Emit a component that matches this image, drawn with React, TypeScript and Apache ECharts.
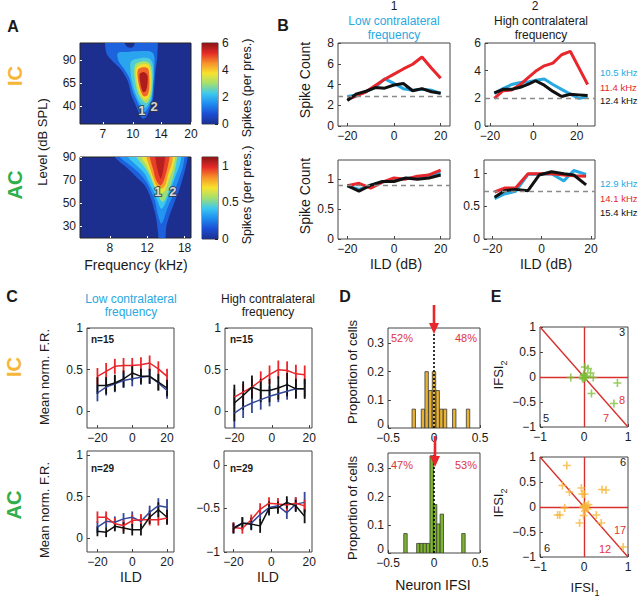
import React, { useEffect, useRef } from 'react';
import * as echarts from 'echarts';

// ---------------- Panel A: contour outlines [frequency kHz, level dB SPL] ----------------
const A_IC_CBAR_TICKS = [0, 2, 4, 6];
const A_IC_CBAR_MAX = 6;
const A_IC_LEVELS = [1.0, 1.8, 2.4, 3.1, 3.8, 4.8, 5.7];
const A_IC_CONTOURS = [
  [[7.29, 112], [9.07, 112], [9.07, 108], [9.43, 103.4], [10.0, 103.4], [10.22, 108], [10.22, 112], [13.2, 112], [13.4, 95.5], [13.1, 77.6], [12.9, 59.7], [12.7, 47.1], [12.2, 36.4], [11.7, 28.2], [11.2, 26.8], [10.85, 31.1], [10.4, 40.1], [9.81, 52.5], [9.43, 66.8], [8.71, 79.4], [7.73, 90.1], [7.29, 97.3]],
  [[8.37, 97.3], [9.43, 98.4], [10.4, 99.1], [12.7, 97.3], [12.9, 77.6], [12.7, 59.7], [12.55, 47.1], [11.98, 38.2], [11.5, 33.9], [11.06, 36.4], [10.63, 43.6], [10.0, 56.1], [9.6, 70.4], [9.07, 79.4], [8.45, 88.3]],
  [[9.81, 88.3], [11.06, 91.9], [12.2, 91.2], [12.7, 84.8], [12.7, 63.2], [12.46, 48.9], [11.98, 41.8], [11.5, 38.2], [11.06, 41.8], [10.55, 48.9], [10.0, 63.2], [9.73, 77.6]],
  [[10.3, 84.8], [11.3, 88.3], [12.2, 86.5], [12.55, 77.6], [12.55, 59.7], [12.2, 47.1], [11.74, 43.6], [11.3, 45.4], [10.63, 54.3], [10.22, 70.4]],
  [[10.47, 81.9], [11.3, 85.5], [12.07, 84.1], [12.36, 75.8], [12.36, 59.7], [12.07, 49.6], [11.5, 47.1], [10.85, 54.3], [10.43, 68.6]],
  [[10.63, 79.4], [11.3, 81.9], [11.98, 80.5], [12.17, 72.2], [12.17, 59.7], [11.9, 51.8], [11.4, 50.7], [10.97, 56.8], [10.63, 68.6]],
  [[10.85, 74.7], [11.4, 76.9], [11.9, 73.3], [11.9, 63.2], [11.65, 56.1], [11.3, 55.4], [10.97, 63.2]],
];
const A_IC_MARKS = [{ name: '1', value: [11.15, 35.5] }, { name: '2', value: [12.87, 40] }];
const A_IC_XTICKS = [7, 10, 14, 20];
const A_IC_YTICKS = [40, 65, 90];

const A_AC_CBAR_TICKS = [0, 0.5, 1];
const A_AC_CBAR_MAX = 1.12;
const A_AC_LEVELS = [0.18, 0.3, 0.42, 0.55, 0.68, 0.82, 0.95, 1.05];
const A_AC_CONTOURS = [
  [[8.44, 94], [8.44, 90], [8.91, 85.7], [9.74, 79.9], [10.66, 72.7], [11.67, 65.5], [12.32, 56.9], [12.77, 48.2], [13.23, 36.7], [13.48, 25.2], [13.73, 16], [14.49, 16], [14.75, 29.5], [15.29, 39.6], [16.14, 51.1], [17.04, 62.6], [17.99, 77.0], [18.64, 90], [18.64, 94]],
  [[8.91, 94], [8.91, 90], [9.74, 84.2], [10.86, 77.0], [11.88, 68.4], [12.54, 59.8], [13.09, 51.1], [13.48, 39.6], [13.97, 32.4], [14.38, 36.7], [14.91, 45.3], [15.85, 56.9], [16.73, 68.4], [17.66, 81.4], [17.99, 90], [17.99, 94]],
  [[9.74, 94], [9.74, 90], [10.66, 82.8], [11.67, 75.6], [12.32, 66.9], [12.9, 59.8], [13.48, 51.1], [13.97, 45.3], [14.59, 49.7], [15.29, 59.8], [16.14, 71.3], [17.04, 82.8], [17.34, 90], [17.34, 94]],
  [[10.66, 94], [10.66, 90], [11.46, 82.8], [12.19, 75.6], [12.77, 66.9], [13.23, 61.2], [13.73, 54.0], [14.22, 51.1], [14.75, 55.4], [15.46, 65.5], [16.14, 77.0], [16.61, 90], [16.61, 94]],
  [[11.25, 94], [11.25, 90], [11.88, 82.8], [12.46, 74.2], [12.9, 66.9], [13.38, 61.2], [13.97, 58.3], [14.59, 61.2], [15.13, 69.9], [15.85, 79.9], [16.25, 90], [16.25, 94]],
  [[11.88, 94], [11.88, 90], [12.32, 81.4], [12.77, 72.7], [13.23, 65.5], [13.97, 62.6], [14.59, 65.5], [15.02, 74.2], [15.68, 84.2], [15.85, 90], [15.85, 94]],
  [[12.32, 94], [12.32, 90], [12.77, 79.9], [13.23, 69.9], [13.88, 65.5], [14.38, 69.9], [14.91, 79.9], [15.29, 90], [15.29, 94]],
  [[13.09, 94], [13.09, 90], [13.38, 79.9], [13.88, 71.3], [14.22, 77.0], [14.59, 90], [14.59, 94]],
];
const A_AC_MARKS = [{ name: '1', value: [13.48, 59.8] }, { name: '2', value: [15.85, 59.8] }];
const A_AC_XTICKS = [8, 12, 18];
const A_AC_YTICKS = [30, 50, 70, 90];

// ---------------- Panel B: spike counts vs ILD ----------------
const B_TL_X = [-20, -16, -12, -8, -4, 0, 4, 8, 12, 16, 20];
const B_TL_BLUE = [2.85, 3.0, 3.3, 3.75, 4.55, 4.1, 3.6, 3.45, 3.55, 3.45, 3.15];
const B_TL_RED = [2.55, 2.9, 3.3, 3.9, 4.5, 5.0, 5.5, 5.95, 6.65, 5.6, 4.6];
const B_TL_BLACK = [2.45, 3.1, 3.35, 3.7, 3.65, 3.95, 4.1, 3.4, 3.6, 3.3, 3.15];
const B_TR_X = [-18, -14, -10, -6, -2, 1, 5, 9, 13, 17, 21, 25];
const B_TR_BLUE = [2.35, 2.7, 3.0, 3.15, 3.2, 3.3, 3.4, 3.0, 2.65, 2.3, 2.0, 2.1];
const B_TR_RED = [2.0, 2.55, 2.6, 3.0, 3.55, 3.95, 4.35, 4.55, 5.15, 5.4, 4.2, 3.0];
const B_TR_BLACK = [2.4, 2.65, 2.65, 2.8, 3.05, 3.27, 2.95, 2.5, 2.13, 2.3, 2.25, 2.2];
const B_BL_X = [-20, -15, -10, -5, 0, 5, 10, 15, 20];
const B_BL_BLUE = [0.89, 0.83, 0.9, 0.95, 0.99, 1.01, 1.03, 1.07, 1.1];
const B_BL_RED = [0.89, 0.93, 0.85, 0.95, 1.02, 1.0, 1.05, 1.07, 1.15];
const B_BL_BLACK = [0.89, 0.8, 0.9, 0.96, 0.96, 1.02, 1.0, 1.02, 1.07];
const B_BR_X = [-19, -15, -10.5, -5.5, -1, 4, 9, 13, 18];
const B_BR_BLUE = [0.62, 0.69, 0.73, 0.99, 0.99, 1.0, 0.89, 1.05, 0.99];
const B_BR_RED = [0.72, 0.78, 0.78, 1.0, 1.0, 1.0, 0.98, 0.97, 0.96];
const B_BR_BLACK = [0.64, 0.74, 0.76, 0.74, 0.98, 1.03, 1.0, 0.98, 0.83];
const B_BASELINES = [2.85, 2.0, 0.9, 0.73];
const B_LEGEND_TOP = ['10.5 kHz', '11.4 kHz', '12.4 kHz'];
const B_LEGEND_BOTTOM = ['12.9 kHz', '14.1 kHz', '15.4 kHz'];

// ---------------- Panel C: mean normalized firing rate ± error ----------------
const C_X_LOW = [-20, -15, -10, -5, 0, 5, 10, 15, 20];
const C_X_HIGH = [-20, -15.3, -10.6, -5.9, -1.2, 3.5, 8.2, 12.9, 17.6];
const C_IC_LOW_RED = [0.42, 0.48, 0.54, 0.55, 0.55, 0.56, 0.58, 0.51, 0.42];
const C_IC_LOW_RED_ERR = [0.1, 0.1, 0.09, 0.09, 0.09, 0.09, 0.09, 0.09, 0.09];
const C_IC_LOW_BLACK = [0.31, 0.31, 0.34, 0.39, 0.46, 0.42, 0.42, 0.35, 0.28];
const C_IC_LOW_BLACK_ERR = [0.1, 0.1, 0.1, 0.1, 0.09, 0.09, 0.09, 0.1, 0.1];
const C_IC_LOW_BLUE = [0.22, 0.29, 0.33, 0.37, 0.39, 0.41, 0.42, 0.34, 0.25];
const C_IC_LOW_BLUE_ERR = [0.1, 0.1, 0.1, 0.09, 0.09, 0.09, 0.09, 0.09, 0.1];
const C_IC_HIGH_RED = [0.17, 0.23, 0.29, 0.37, 0.44, 0.5, 0.49, 0.45, 0.44];
const C_IC_HIGH_RED_ERR = [0.1, 0.1, 0.1, 0.11, 0.11, 0.11, 0.11, 0.11, 0.11];
const C_IC_HIGH_BLACK = [0.1, 0.19, 0.29, 0.25, 0.25, 0.28, 0.32, 0.27, 0.27];
const C_IC_HIGH_BLACK_ERR = [0.22, 0.17, 0.14, 0.14, 0.14, 0.14, 0.14, 0.12, 0.12];
const C_IC_HIGH_BLUE = [-0.02, 0.05, 0.1, 0.14, 0.18, 0.21, 0.24, 0.27, 0.27];
const C_IC_HIGH_BLUE_ERR = [0.2, 0.13, 0.12, 0.12, 0.12, 0.1, 0.1, 0.1, 0.1];
const C_AC_LOW_RED = [0.25, 0.25, 0.17, 0.15, 0.21, 0.22, 0.22, 0.22, 0.24];
const C_AC_LOW_RED_ERR = [0.07, 0.07, 0.07, 0.07, 0.07, 0.07, 0.07, 0.07, 0.07];
const C_AC_LOW_BLUE = [0.13, 0.2, 0.19, 0.23, 0.25, 0.2, 0.31, 0.39, 0.37];
const C_AC_LOW_BLUE_ERR = [0.07, 0.07, 0.07, 0.07, 0.07, 0.07, 0.08, 0.09, 0.1];
const C_AC_LOW_BLACK = [0.08, 0.07, 0.14, 0.12, 0.1, 0.1, 0.25, 0.34, 0.25];
const C_AC_LOW_BLACK_ERR = [0.06, 0.06, 0.06, 0.07, 0.07, 0.07, 0.08, 0.09, 0.09];
const C_AC_HIGH_RED = [-0.72, -0.73, -0.63, -0.51, -0.44, -0.45, -0.46, -0.44, -0.47];
const C_AC_HIGH_RED_ERR = [0.06, 0.06, 0.06, 0.07, 0.07, 0.07, 0.07, 0.07, 0.07];
const C_AC_HIGH_BLUE = [-0.72, -0.67, -0.67, -0.57, -0.49, -0.47, -0.55, -0.45, -0.43];
const C_AC_HIGH_BLUE_ERR = [0.06, 0.07, 0.07, 0.07, 0.07, 0.07, 0.07, 0.08, 0.12];
const C_AC_HIGH_BLACK = [-0.73, -0.67, -0.68, -0.7, -0.5, -0.49, -0.43, -0.47, -0.59];
const C_AC_HIGH_BLACK_ERR = [0.06, 0.07, 0.07, 0.08, 0.08, 0.07, 0.07, 0.07, 0.08];

// ---------------- Panel D: histograms of neuron IFSI ----------------
const D_BIN_WIDTH = 0.037;
const D_IC_CENTERS = [-0.22, -0.12, -0.08, -0.04, 0.0, 0.04, 0.08, 0.12, 0.22, 0.37];
const D_IC_PROPS = [0.067, 0.067, 0.2, 0.133, 0.2, 0.133, 0.067, 0.067, 0.067, 0.067];
const D_AC_CENTERS = [-0.31, -0.17, -0.135, -0.1, -0.065, -0.025, 0.012, 0.048, 0.085, 0.32];
const D_AC_PROPS = [0.069, 0.034, 0.034, 0.034, 0.034, 0.345, 0.172, 0.103, 0.138, 0.069];
const D_PCT = [['52%', '48%'], ['47%', '53%']];

// ---------------- Panel E: IFSI1 vs IFSI2 ----------------
const E_TOP_X = [-0.3, -0.04, -0.01, 0.02, 0.0, 0.04, -0.02, 0.02, 0.09, 0.15, 0.21, 0.17, 0.76, 0.68, 0.05];
const E_TOP_Y = [-0.01, -0.01, 0.03, -0.02, 0.05, 0.02, -0.04, 0.2, 0.17, 0.08, -0.01, -0.33, -0.12, -0.53, 0.0];
const E_BOT_X = [-0.39, -0.49, -0.33, -0.06, -0.04, 0.01, 0.41, 0.5, 0.0, 0.03, 0.06, -0.02, 0.08, 0.1, 0.02, -0.44, -0.55, -0.6, -0.1, -0.01, 0.28, 0.39, 0.89];
const E_BOT_Y = [0.83, 0.43, 0.3, 0.38, 0.26, 0.26, 0.35, 0.34, 0.03, -0.01, 0.02, 0.0, -0.04, 0.05, -0.08, -0.02, -0.16, -0.16, -0.32, -0.17, -0.16, -0.32, -0.8];
const E_DIAG = [[-1, 1], [1, -1]];
const E_COUNTS_TOP = ['3', '5', '8', '7'];
const E_COUNTS_BOT = ['6', '6', '17', '12'];

// ---------------- styling ----------------
const FONT = "'Liberation Sans', Arial, Helvetica, sans-serif";
const INK = '#1a1a1a';
const AXIS = '#454545';
const CYAN = '#27a9e1';
const RED = '#e8262b';
const BLACK = '#111111';
const NAVY = '#34489a';
const IC_COL = '#f6b638';
const AC_COL = '#2fae4a';
const PCT_RED = '#e0353a';
const E_LINE = '#d8302c';
const JET_STOPS: [number, string][] = [
  [0, '#1c2f8e'], [0.125, '#1b4ed4'], [0.25, '#1f8cf0'], [0.375, '#3cc8ef'],
  [0.5, '#a2df70'], [0.625, '#f7e32d'], [0.75, '#f7922a'], [0.875, '#e42a27'], [1, '#8a1515'],
];

function hexToRgb(h: string) {
  return [parseInt(h.slice(1, 3), 16), parseInt(h.slice(3, 5), 16), parseInt(h.slice(5, 7), 16)];
}
function jetColor(t: number) {
  const tt = Math.max(0, Math.min(1, t));
  for (let i = 0; i < JET_STOPS.length - 1; i++) {
    const [t0, c0] = JET_STOPS[i];
    const [t1, c1] = JET_STOPS[i + 1];
    if (tt <= t1) {
      const f = (tt - t0) / (t1 - t0);
      const a = hexToRgb(c0), b = hexToRgb(c1);
      const m = a.map((v, k) => Math.round(v + (b[k] - v) * f));
      return `rgb(${m[0]},${m[1]},${m[2]})`;
    }
  }
  return JET_STOPS[JET_STOPS.length - 1][1];
}

const fmt = (v: number) => {
  const s = String(Math.abs(Math.round(v * 1000) / 1000));
  return v < 0 ? '\u2212' + s : s;
};
const zip = (xs: number[], ...cols: number[][]) => xs.map((x, i) => [x, ...cols.map((c) => c[i])]);

const GRIDS = [
  { left: 80, top: 43, width: 111, height: 81, bg: true },   // 0 A IC map
  { left: 202, top: 43, width: 16, height: 81 },             // 1 A IC colorbar
  { left: 80, top: 157, width: 111, height: 81, bg: true },  // 2 A AC map
  { left: 202, top: 157, width: 16, height: 82 },            // 3 A AC colorbar
  { left: 338, top: 43, width: 112, height: 83 },            // 4 B TL
  { left: 485, top: 43, width: 110, height: 83 },            // 5 B TR
  { left: 338, top: 160, width: 112, height: 79 },           // 6 B BL
  { left: 484, top: 160, width: 111, height: 79 },           // 7 B BR
  { left: 87, top: 328, width: 87, height: 100 },            // 8 C TL
  { left: 225, top: 328, width: 87, height: 100 },           // 9 C TR
  { left: 87, top: 451, width: 87, height: 101 },            // 10 C BL
  { left: 224, top: 451, width: 88, height: 101 },           // 11 C BR
  { left: 388, top: 328, width: 92, height: 100 },           // 12 D top
  { left: 388, top: 453, width: 92, height: 100 },           // 13 D bottom
  { left: 540, top: 327, width: 88, height: 100 },           // 14 E top
  { left: 540, top: 457, width: 88, height: 100 },           // 15 E bottom
];

function axis(kind: 'x' | 'y', gridIndex: number, min: number, max: number, ticks: number[] | null, extra: any = {}) {
  const { label = {}, tick = {}, ...rest } = extra;
  const hidden = ticks === null;
  return {
    type: 'value', gridIndex, min, max,
    position: kind === 'x' ? 'bottom' : 'left',
    axisLine: { show: false, onZero: false },
    axisTick: hidden ? { show: false } : { show: true, inside: true, length: 3, customValues: ticks, lineStyle: { color: AXIS, width: 1 }, ...tick },
    axisLabel: hidden ? { show: false } : { show: true, customValues: ticks, fontSize: 12, color: INK, margin: 4, fontFamily: FONT, hideOverlap: false, formatter: fmt, ...label },
    splitLine: { show: false },
    ...rest,
  };
}

function contourSeries(grid: number, contours: number[][][], levels: number[], cmax: number) {
  return {
    type: 'custom', xAxisIndex: grid, yAxisIndex: grid, clip: true, silent: true,
    data: contours.map((c) => [Math.log10(c[0][0]), c[0][1]]),
    renderItem: (params: any, api: any) => {
      const i = params.dataIndex;
      const pts = contours[i].map(([f, d]) => api.coord([Math.log10(f), d]));
      return { type: 'polygon', shape: { points: pts, smooth: 0.3 }, style: { fill: jetColor(levels[i] / cmax), stroke: null } };
    },
  };
}

function markSeries(grid: number, marks: { name: string; value: number[] }[]) {
  return {
    type: 'scatter', xAxisIndex: grid, yAxisIndex: grid, symbolSize: 1, silent: true,
    itemStyle: { color: 'rgba(0,0,0,0)' },
    data: marks.map((m) => ({ name: m.name, value: [Math.log10(m.value[0]), m.value[1]] })),
    label: { show: true, position: 'inside', formatter: (p: any) => p.name, color: '#fff', fontSize: 13, fontWeight: 'bold', fontFamily: FONT, textBorderColor: '#333', textBorderWidth: 2 },
  };
}

function colorbarSeries(grid: number, cmax: number) {
  return {
    type: 'custom', xAxisIndex: grid, yAxisIndex: grid, silent: true,
    data: [[0.5, cmax / 2]],
    renderItem: (_p: any, api: any) => {
      const p0 = api.coord([0, cmax]);
      const p1 = api.coord([1, 0]);
      return {
        type: 'rect',
        shape: { x: p0[0], y: p0[1], width: p1[0] - p0[0], height: p1[1] - p0[1] },
        style: { fill: new echarts.graphic.LinearGradient(0, 1, 0, 0, JET_STOPS.map(([o, c]) => ({ offset: o, color: c }))) },
      };
    },
  };
}

function lineSeries(grid: number, xs: number[], ys: number[], color: string, width: number, extra: any = {}) {
  return {
    type: 'line', xAxisIndex: grid, yAxisIndex: grid, data: zip(xs, ys), symbol: 'none', showSymbol: false,
    lineStyle: { color, width }, itemStyle: { color }, silent: true, animation: false, ...extra,
  };
}

function errSeries(grid: number, xs: number[], ys: number[], errs: number[], color: string) {
  return {
    type: 'custom', xAxisIndex: grid, yAxisIndex: grid, clip: true, silent: true,
    data: zip(xs, ys, errs),
    renderItem: (_p: any, api: any) => {
      const x = api.value(0), y = api.value(1), e = api.value(2);
      const a = api.coord([x, y - e]);
      const b = api.coord([x, y + e]);
      return { type: 'line', shape: { x1: a[0], y1: a[1], x2: b[0], y2: b[1] }, style: { stroke: color, lineWidth: 1.8 } };
    },
  };
}

function histSeries(grid: number, centers: number[], props: number[], color: string) {
  return {
    type: 'custom', xAxisIndex: grid, yAxisIndex: grid, clip: true, silent: true,
    data: zip(centers, props),
    renderItem: (_p: any, api: any) => {
      const c = api.value(0), h = api.value(1);
      const p0 = api.coord([c - D_BIN_WIDTH / 2, h]);
      const p1 = api.coord([c + D_BIN_WIDTH / 2, 0]);
      return { type: 'rect', shape: { x: p0[0], y: p0[1], width: p1[0] - p0[0], height: p1[1] - p0[1] }, style: { fill: color, stroke: '#3a3a3a', lineWidth: 0.8 } };
    },
    markLine: {
      silent: true, symbol: ['none', 'none'], label: { show: false },
      lineStyle: { color: '#000', type: [2, 2], width: 1.6 },
      data: [{ xAxis: 0 }],
    },
  };
}

function T(text: string, x: number, y: number, o: any = {}) {
  return {
    type: 'text', x, y, z: 50, rotation: o.rot ? Math.PI / 2 : 0,
    style: {
      text, fill: o.color || INK, fontSize: o.size || 12, fontWeight: o.bold ? 'bold' : 'normal',
      fontFamily: FONT, align: o.align || 'center', verticalAlign: 'middle', rich: o.rich,
    },
  };
}
function arrow(x: number, y0: number, y1: number) {
  return [
    { type: 'line', z: 60, shape: { x1: x, y1: y0, x2: x, y2: y1 - 8 }, style: { stroke: RED, lineWidth: 2.6 } },
    { type: 'polygon', z: 60, shape: { points: [[x - 5, y1 - 11], [x + 5, y1 - 11], [x, y1]] }, style: { fill: RED } },
  ];
}

function buildOption() {
  const L10 = (a: number[]) => a.map((v) => Math.log10(v));
  const kHz = (v: number) => String(Math.round(Math.pow(10, v)));
  const whiteTick = { tick: { lineStyle: { color: '#fff', width: 1 }, length: 2 } };
  const liftZero = {
    label: {
      formatter: (v: number) => (v === 0 ? '{lift|0}' : fmt(v)),
      rich: { lift: { fontSize: 12, fontFamily: FONT, color: INK, padding: [0, 0, 9, 0] } },
    },
  };

  const xAxis = [
    axis('x', 0, Math.log10(5.33), Math.log10(20), L10(A_IC_XTICKS), { ...whiteTick, label: { formatter: kHz } }),
    axis('x', 1, 0, 1, null),
    axis('x', 2, Math.log10(5.78), Math.log10(19.3), L10(A_AC_XTICKS), { ...whiteTick, label: { formatter: kHz } }),
    axis('x', 3, 0, 1, null),
    axis('x', 4, -24, 24, [-20, 0, 20]),
    axis('x', 5, -22.3, 28.4, [-20, 0, 20]),
    axis('x', 6, -24, 24, [-20, 0, 20]),
    axis('x', 7, -23.3, 21.6, [-20, 0, 20]),
    axis('x', 8, -26, 24, [-20, 0, 20]),
    axis('x', 9, -25, 21.5, [-20, 0, 20]),
    axis('x', 10, -26, 24, [-20, 0, 20]),
    axis('x', 11, -25, 21.5, [-20, 0, 20]),
    axis('x', 12, -0.5, 0.5, [-0.5, 0, 0.5]),
    axis('x', 13, -0.5, 0.5, [-0.5, 0, 0.5]),
    axis('x', 14, -1, 1, [-1, 0, 1]),
    axis('x', 15, -1, 1, [-1, 0, 1]),
  ];
  const yAxis = [
    axis('y', 0, 21, 108, A_IC_YTICKS, whiteTick),
    axis('y', 1, 0, A_IC_CBAR_MAX, A_IC_CBAR_TICKS, { position: 'right', tick: { lineStyle: { color: '#222' } } }),
    axis('y', 2, 20, 90, A_AC_YTICKS, whiteTick),
    axis('y', 3, 0, A_AC_CBAR_MAX, A_AC_CBAR_TICKS, { position: 'right', tick: { lineStyle: { color: '#222' } } }),
    axis('y', 4, 0, 8, [0, 2, 4, 6, 8]),
    axis('y', 5, 0, 6, [0, 2, 4, 6]),
    axis('y', 6, 0, 1.32, [0, 0.5, 1]),
    axis('y', 7, 0, 1.21, [0, 0.5, 1]),
    axis('y', 8, -0.2, 1, [0, 0.5, 1]),
    axis('y', 9, -0.2, 1, [0, 0.5, 1]),
    axis('y', 10, -0.17, 1.05, [0, 0.5, 1]),
    axis('y', 11, -1, 0.16, [-1, -0.5, 0]),
    axis('y', 12, 0, 0.355, [0, 0.1, 0.2, 0.3], liftZero),
    axis('y', 13, 0, 0.355, [0, 0.1, 0.2, 0.3], liftZero),
    axis('y', 14, -1, 1, [-1, -0.5, 0, 0.5, 1]),
    axis('y', 15, -1, 1, [-1, -0.5, 0, 0.5, 1]),
  ];

  const grid = GRIDS.map((g: any) => ({
    left: g.left, top: g.top, width: g.width, height: g.height, containLabel: false,
    show: true, borderColor: g.bg ? '#222' : AXIS, borderWidth: 1,
    backgroundColor: g.bg ? jetColor(0) : 'transparent',
  }));

  const series: any[] = [];
  // A
  series.push(contourSeries(0, A_IC_CONTOURS, A_IC_LEVELS, A_IC_CBAR_MAX));
  series.push(markSeries(0, A_IC_MARKS));
  series.push(colorbarSeries(1, A_IC_CBAR_MAX));
  series.push(contourSeries(2, A_AC_CONTOURS, A_AC_LEVELS, A_AC_CBAR_MAX));
  series.push(markSeries(2, A_AC_MARKS));
  series.push(colorbarSeries(3, A_AC_CBAR_MAX));

  // B
  const bPanels = [
    [4, B_TL_X, B_TL_BLUE, B_TL_RED, B_TL_BLACK],
    [5, B_TR_X, B_TR_BLUE, B_TR_RED, B_TR_BLACK],
    [6, B_BL_X, B_BL_BLUE, B_BL_RED, B_BL_BLACK],
    [7, B_BR_X, B_BR_BLUE, B_BR_RED, B_BR_BLACK],
  ] as any[];
  bPanels.forEach(([g, xs, bl, rd, bk], i) => {
    series.push(lineSeries(g, xs, bl, CYAN, 3, {
      markLine: {
        silent: true, symbol: ['none', 'none'], label: { show: false },
        lineStyle: { color: '#8a8a8a', type: [5, 4], width: 1.3 }, data: [{ yAxis: B_BASELINES[i] }],
      },
    }));
    series.push(lineSeries(g, xs, rd, RED, 3));
    series.push(lineSeries(g, xs, bk, BLACK, 3));
  });

  // C
  const cPanels = [
    [8, C_X_LOW, C_IC_LOW_BLUE, C_IC_LOW_BLUE_ERR, C_IC_LOW_RED, C_IC_LOW_RED_ERR, C_IC_LOW_BLACK, C_IC_LOW_BLACK_ERR],
    [9, C_X_HIGH, C_IC_HIGH_BLUE, C_IC_HIGH_BLUE_ERR, C_IC_HIGH_RED, C_IC_HIGH_RED_ERR, C_IC_HIGH_BLACK, C_IC_HIGH_BLACK_ERR],
    [10, C_X_LOW, C_AC_LOW_BLUE, C_AC_LOW_BLUE_ERR, C_AC_LOW_RED, C_AC_LOW_RED_ERR, C_AC_LOW_BLACK, C_AC_LOW_BLACK_ERR],
    [11, C_X_HIGH, C_AC_HIGH_BLUE, C_AC_HIGH_BLUE_ERR, C_AC_HIGH_RED, C_AC_HIGH_RED_ERR, C_AC_HIGH_BLACK, C_AC_HIGH_BLACK_ERR],
  ] as any[];
  cPanels.forEach(([g, xs, bl, ble, rd, rde, bk, bke]) => {
    series.push(errSeries(g, xs, bl, ble, NAVY));
    series.push(lineSeries(g, xs, bl, NAVY, 1.5));
    series.push(errSeries(g, xs, rd, rde, RED));
    series.push(lineSeries(g, xs, rd, RED, 1.5));
    series.push(errSeries(g, xs, bk, bke, BLACK));
    series.push(lineSeries(g, xs, bk, BLACK, 1.5));
  });

  // D
  series.push(histSeries(12, D_IC_CENTERS, D_IC_PROPS, '#e9b232'));
  series.push(histSeries(13, D_AC_CENTERS, D_AC_PROPS, '#7db52c'));

  // E
  const plus = 'path://M4,0H6V4H10V6H6V10H4V6H0V4H4Z';
  [[14, E_TOP_X, E_TOP_Y, '#7cbf3a'], [15, E_BOT_X, E_BOT_Y, '#f6b638']].forEach(([g, xs, ys, col]: any) => {
    series.push({
      type: 'line', xAxisIndex: g, yAxisIndex: g, data: E_DIAG, symbol: 'none', silent: true,
      lineStyle: { color: E_LINE, width: 1.4 },
      markLine: {
        silent: true, symbol: ['none', 'none'], label: { show: false },
        lineStyle: { color: E_LINE, type: 'solid', width: 1.4 }, data: [{ xAxis: 0 }, { yAxis: 0 }],
      },
    });
    series.push({
      type: 'scatter', xAxisIndex: g, yAxisIndex: g, data: zip(xs, ys), symbol: plus, symbolSize: 8,
      itemStyle: { color: col }, silent: true, z: 5,
    });
  });

  const rot = { rot: true };
  const ifsiRich = { a: { fontSize: 13, fontFamily: FONT, fill: INK, lineHeight: 20 }, b: { fontSize: 9, fontFamily: FONT, fill: INK, lineHeight: 12, verticalAlign: 'bottom' } };
  const legendOpts = (color: string) => ({ align: 'left', size: 9.5, color });
  const graphic: any[] = [
    T('A', 13, 26, { bold: true, size: 16 }), T('B', 283, 25, { bold: true, size: 16 }),
    T('C', 12, 296, { bold: true, size: 16 }), T('D', 345, 296, { bold: true, size: 16 }), T('E', 496, 296, { bold: true, size: 16 }),
    T('IC', 15, 76, { ...rot, bold: true, size: 20, color: IC_COL }), T('AC', 15, 185, { ...rot, bold: true, size: 20, color: AC_COL }),
    T('IC', 14, 367, { ...rot, bold: true, size: 20, color: IC_COL }), T('AC', 14, 505, { ...rot, bold: true, size: 20, color: AC_COL }),
    // A
    T('Level (dB SPL)', 42, 142, { ...rot, size: 13 }), T('Frequency (kHz)', 136, 265, { size: 14 }),
    T('Spikes (per pres.)', 247, 88, { ...rot, size: 12.5 }), T('Spikes (per pres.)', 247, 195, { ...rot, size: 12.5 }),
    // B
    T('1', 394, 6), T('Low contralateral', 394, 21, { color: CYAN }), T('frequency', 394, 35, { color: CYAN }),
    T('2', 535, 6), T('High contralateral', 541, 21), T('frequency', 541, 35),
    T('Spike Count', 305, 80, { ...rot, size: 14 }), T('Spike Count', 305, 196, { ...rot, size: 14 }),
    T('ILD (dB)', 396, 264, { size: 14 }), T('ILD (dB)', 546, 264, { size: 14 }),
    T(B_LEGEND_TOP[0], 600, 72, legendOpts(CYAN)),
    T(B_LEGEND_TOP[1], 600, 87, legendOpts(RED)),
    T(B_LEGEND_TOP[2], 600, 100, legendOpts(BLACK)),
    T(B_LEGEND_BOTTOM[0], 600, 183, legendOpts(CYAN)),
    T(B_LEGEND_BOTTOM[1], 600, 198, legendOpts(RED)),
    T(B_LEGEND_BOTTOM[2], 600, 212, legendOpts(BLACK)),
    // C
    T('Low contralateral', 131, 299, { color: CYAN }), T('frequency', 131, 312, { color: CYAN }),
    T('High contralateral', 268, 299), T('frequency', 268, 312),
    T('Mean norm. F.R.', 44, 377, { ...rot, size: 13 }), T('Mean norm. F.R.', 44, 510, { ...rot, size: 13 }),
    T('ILD', 131, 577, { size: 14 }), T('ILD', 268, 577, { size: 14 }),
    T('n=15', 91, 339, { bold: true, size: 10, align: 'left' }), T('n=15', 230, 339, { bold: true, size: 10, align: 'left' }),
    T('n=29', 91, 468, { bold: true, size: 10, align: 'left' }), T('n=29', 230, 468, { bold: true, size: 10, align: 'left' }),
    // D
    T('Proportion of cells', 352, 372, { ...rot, size: 13 }), T('Proportion of cells', 352, 508, { ...rot, size: 13 }),
    T('Neuron IFSI', 433, 585, { size: 14 }),
    T(D_PCT[0][0], 402, 338, { size: 11, color: PCT_RED }), T(D_PCT[0][1], 466, 338, { size: 11, color: PCT_RED }),
    T(D_PCT[1][0], 402, 465, { size: 11, color: PCT_RED }), T(D_PCT[1][1], 466, 465, { size: 11, color: PCT_RED }),
    ...arrow(434, 305, 334), ...arrow(435, 436, 467),
    // E
    T('{a|IFSI}{b|2}', 498, 375, { ...rot, rich: ifsiRich }), T('{a|IFSI}{b|2}', 498, 503, { ...rot, rich: ifsiRich }),
    T('{a|IFSI}{b|1}', 585, 587, { rich: ifsiRich }),
    T(E_COUNTS_TOP[0], 622, 332, { size: 11 }), T(E_COUNTS_TOP[1], 546, 418, { size: 11 }),
    T(E_COUNTS_TOP[2], 622, 400, { size: 11, color: PCT_RED }), T(E_COUNTS_TOP[3], 606, 418, { size: 11, color: PCT_RED }),
    T(E_COUNTS_BOT[0], 623, 462, { size: 11 }), T(E_COUNTS_BOT[1], 547, 548, { size: 11 }),
    T(E_COUNTS_BOT[2], 620, 530, { size: 11, color: PCT_RED }), T(E_COUNTS_BOT[3], 605, 549, { size: 11, color: PCT_RED }),
  ];

  return {
    animation: false,
    backgroundColor: '#ffffff',
    textStyle: { fontFamily: FONT },
    grid, xAxis, yAxis, series, graphic,
  };
}

export default function App() {
  const ref = useRef<HTMLDivElement>(null);
  useEffect(() => {
    const chart = echarts.init(ref.current as HTMLDivElement, null, { renderer: 'svg' });
    chart.setOption(buildOption() as any);
    return () => chart.dispose();
  }, []);
  return <div ref={ref} style={{ position: 'fixed', left: 0, top: 0, width: 640, height: 596 }} />;
}
